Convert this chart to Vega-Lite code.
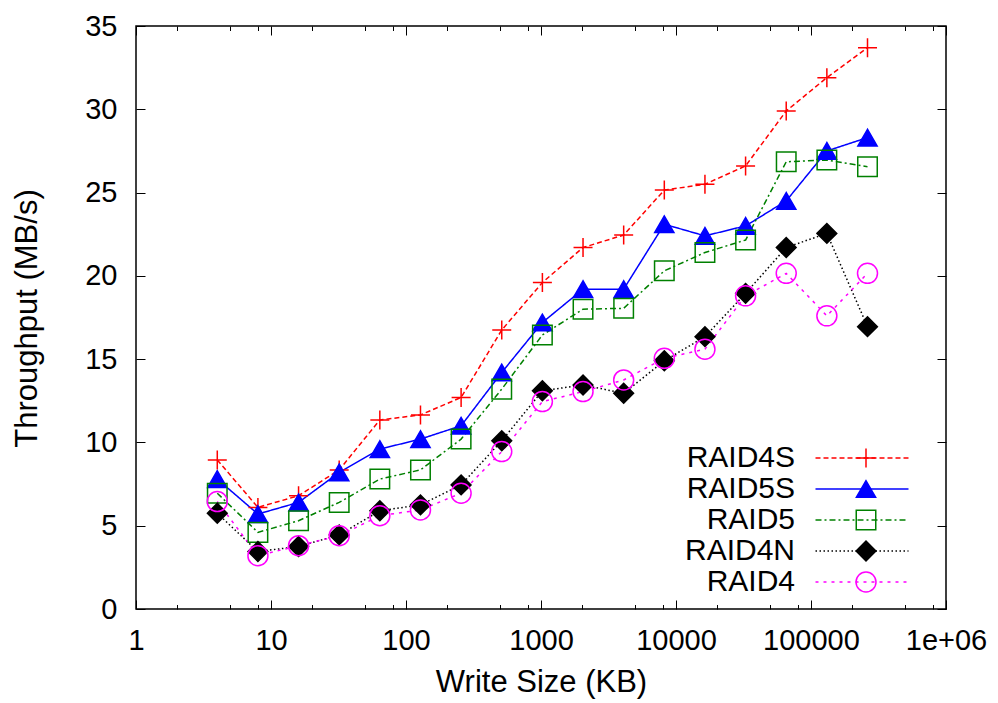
{
  "$schema": "https://vega.github.io/schema/vega-lite/v6.json",
  "width": 810,
  "height": 583,
  "autosize": "none",
  "padding": {"left": 136, "top": 26, "right": 52, "bottom": 94},
  "background": "white",
  "data": {
    "values": [
      {"size": 4, "series": "RAID4S", "tp": 8.95},
      {"size": 8, "series": "RAID4S", "tp": 6.1},
      {"size": 16, "series": "RAID4S", "tp": 6.8},
      {"size": 32, "series": "RAID4S", "tp": 8.35},
      {"size": 64, "series": "RAID4S", "tp": 11.35},
      {"size": 128, "series": "RAID4S", "tp": 11.65},
      {"size": 256, "series": "RAID4S", "tp": 12.7},
      {"size": 512, "series": "RAID4S", "tp": 16.75},
      {"size": 1024, "series": "RAID4S", "tp": 19.6},
      {"size": 2048, "series": "RAID4S", "tp": 21.7},
      {"size": 4096, "series": "RAID4S", "tp": 22.45},
      {"size": 8192, "series": "RAID4S", "tp": 25.15},
      {"size": 16384, "series": "RAID4S", "tp": 25.5},
      {"size": 32768, "series": "RAID4S", "tp": 26.6},
      {"size": 65536, "series": "RAID4S", "tp": 29.9},
      {"size": 131072, "series": "RAID4S", "tp": 31.9},
      {"size": 262144, "series": "RAID4S", "tp": 33.7},
      {"size": 4, "series": "RAID5S", "tp": 7.8},
      {"size": 8, "series": "RAID5S", "tp": 5.7},
      {"size": 16, "series": "RAID5S", "tp": 6.4},
      {"size": 32, "series": "RAID5S", "tp": 8.2},
      {"size": 64, "series": "RAID5S", "tp": 9.6},
      {"size": 128, "series": "RAID5S", "tp": 10.2},
      {"size": 256, "series": "RAID5S", "tp": 11.0},
      {"size": 512, "series": "RAID5S", "tp": 14.2},
      {"size": 1024, "series": "RAID5S", "tp": 17.2},
      {"size": 2048, "series": "RAID5S", "tp": 19.2},
      {"size": 4096, "series": "RAID5S", "tp": 19.2},
      {"size": 8192, "series": "RAID5S", "tp": 23.1},
      {"size": 16384, "series": "RAID5S", "tp": 22.4},
      {"size": 32768, "series": "RAID5S", "tp": 23.0},
      {"size": 65536, "series": "RAID5S", "tp": 24.5},
      {"size": 131072, "series": "RAID5S", "tp": 27.5},
      {"size": 262144, "series": "RAID5S", "tp": 28.3},
      {"size": 4, "series": "RAID5", "tp": 6.95},
      {"size": 8, "series": "RAID5", "tp": 4.6},
      {"size": 16, "series": "RAID5", "tp": 5.3},
      {"size": 32, "series": "RAID5", "tp": 6.4},
      {"size": 64, "series": "RAID5", "tp": 7.8},
      {"size": 128, "series": "RAID5", "tp": 8.35},
      {"size": 256, "series": "RAID5", "tp": 10.2},
      {"size": 512, "series": "RAID5", "tp": 13.2},
      {"size": 1024, "series": "RAID5", "tp": 16.45},
      {"size": 2048, "series": "RAID5", "tp": 18.0},
      {"size": 4096, "series": "RAID5", "tp": 18.05},
      {"size": 8192, "series": "RAID5", "tp": 20.3},
      {"size": 16384, "series": "RAID5", "tp": 21.4},
      {"size": 32768, "series": "RAID5", "tp": 22.15},
      {"size": 65536, "series": "RAID5", "tp": 26.85},
      {"size": 131072, "series": "RAID5", "tp": 26.95},
      {"size": 262144, "series": "RAID5", "tp": 26.55},
      {"size": 4, "series": "RAID4N", "tp": 5.75},
      {"size": 8, "series": "RAID4N", "tp": 3.45},
      {"size": 16, "series": "RAID4N", "tp": 3.75},
      {"size": 32, "series": "RAID4N", "tp": 4.45},
      {"size": 64, "series": "RAID4N", "tp": 5.9},
      {"size": 128, "series": "RAID4N", "tp": 6.25},
      {"size": 256, "series": "RAID4N", "tp": 7.45},
      {"size": 512, "series": "RAID4N", "tp": 10.1},
      {"size": 1024, "series": "RAID4N", "tp": 13.1},
      {"size": 2048, "series": "RAID4N", "tp": 13.45},
      {"size": 4096, "series": "RAID4N", "tp": 12.95},
      {"size": 8192, "series": "RAID4N", "tp": 14.9},
      {"size": 16384, "series": "RAID4N", "tp": 16.35},
      {"size": 32768, "series": "RAID4N", "tp": 18.95},
      {"size": 65536, "series": "RAID4N", "tp": 21.7},
      {"size": 131072, "series": "RAID4N", "tp": 22.55},
      {"size": 262144, "series": "RAID4N", "tp": 16.95},
      {"size": 4, "series": "RAID4", "tp": 6.45},
      {"size": 8, "series": "RAID4", "tp": 3.2},
      {"size": 16, "series": "RAID4", "tp": 3.8},
      {"size": 32, "series": "RAID4", "tp": 4.4},
      {"size": 64, "series": "RAID4", "tp": 5.6},
      {"size": 128, "series": "RAID4", "tp": 5.95},
      {"size": 256, "series": "RAID4", "tp": 6.95},
      {"size": 512, "series": "RAID4", "tp": 9.45},
      {"size": 1024, "series": "RAID4", "tp": 12.45},
      {"size": 2048, "series": "RAID4", "tp": 13.05},
      {"size": 4096, "series": "RAID4", "tp": 13.75},
      {"size": 8192, "series": "RAID4", "tp": 15.05},
      {"size": 16384, "series": "RAID4", "tp": 15.6},
      {"size": 32768, "series": "RAID4", "tp": 18.8},
      {"size": 65536, "series": "RAID4", "tp": 20.15},
      {"size": 131072, "series": "RAID4", "tp": 17.6},
      {"size": 262144, "series": "RAID4", "tp": 20.15}
    ]
  },
  "layer": [
    {
      "mark": {"type": "line", "strokeWidth": 1.5},
      "encoding": {
        "x": {
          "field": "size", "type": "quantitative",
          "scale": {"type": "log", "domain": [1, 1000000]},
          "axis": {
            "orient": "bottom",
            "values": [1, 2, 5, 8, 10, 20, 50, 80, 100, 200, 500, 800, 1000, 2000, 5000, 8000, 10000, 20000, 50000, 80000, 100000, 200000, 500000, 800000, 1000000],
            "tickSize": {"condition": {"test": "indexof([1,10,100,1000,10000,100000,1000000], datum.value) >= 0", "value": -9}, "value": -4.5},
            "labelExpr": "datum.value == 1000000 ? '1e+06' : (indexof([1,10,100,1000,10000,100000], datum.value) >= 0 ? '' + datum.value : '')",
            "labelPadding": 26,
            "labelFlush": false,
            "labelOverlap": false,
            "title": "Write Size (KB)",
            "titleFontSize": 31,
            "titleX": 405,
            "titleY": 82,
            "titleAlign": "center",
            "titleBaseline": "alphabetic"
          }
        },
        "y": {
          "field": "tp", "type": "quantitative",
          "scale": {"domain": [0, 35], "nice": false, "zero": true},
          "axis": {
            "orient": "left",
            "values": [0, 5, 10, 15, 20, 25, 30, 35],
            "tickSize": -9,
            "labelPadding": 28,
            "title": "Throughput (MB/s)",
            "titleFontSize": 31,
            "titleX": -100,
            "titleY": 292,
            "titleAngle": -90,
            "titleAlign": "center",
            "titleBaseline": "alphabetic"
          }
        },
        "color": {
          "field": "series", "type": "nominal",
          "scale": {"domain": ["RAID4S", "RAID5S", "RAID5", "RAID4N", "RAID4"], "range": ["#ff0000", "#0000ff", "#008000", "#000000", "#ff00ff"]},
          "legend": {"orient": "none", "legendX": 715, "legendY": 417, "title": null, "labelOpacity": 0, "labelFontSize": 30, "rowPadding": 1, "padding": 0, "symbolStrokeWidth": 1.5, "symbolOpacity": 1}
        },
        "strokeDash": {
          "field": "series", "type": "nominal",
          "sort": ["RAID4S", "RAID5S", "RAID5", "RAID4N", "RAID4"],
          "scale": {"range": [[5, 3], [1, 0], [6, 3, 2, 3], [1.5, 2.5], [3, 5]]},
          "legend": {
            "orient": "none", "legendX": 711, "legendY": 417, "title": null,
            "symbolType": "M-5,0H5", "symbolSize": 346, "symbolStrokeWidth": 1.5,
            "labelAlign": "right", "labelOffset": -82, "labelFontSize": 30,
            "rowPadding": 1, "padding": 0,
            "encode": {"symbols": {"update": {"stroke": {"scale": "color", "field": "value"}}}}
          }
        }
      }
    },
    {
      "mark": {"type": "point", "strokeWidth": 1.5, "opacity": 1},
      "encoding": {
        "x": {
          "field": "size", "type": "quantitative",
          "scale": {"type": "log", "domain": [1, 1000000]},
          "axis": {
            "orient": "top",
            "values": [1, 2, 5, 8, 10, 20, 50, 80, 100, 200, 500, 800, 1000, 2000, 5000, 8000, 10000, 20000, 50000, 80000, 100000, 200000, 500000, 800000, 1000000],
            "tickSize": {"condition": {"test": "indexof([1,10,100,1000,10000,100000,1000000], datum.value) >= 0", "value": -9}, "value": -4.5},
            "labels": false,
            "title": null
          }
        },
        "y": {
          "field": "tp", "type": "quantitative",
          "scale": {"domain": [0, 35], "nice": false, "zero": true},
          "axis": {"orient": "right", "values": [0, 5, 10, 15, 20, 25, 30, 35], "tickSize": -9, "labels": false, "title": null}
        },
        "color": {
          "field": "series", "type": "nominal",
          "scale": {"domain": ["RAID4S", "RAID5S", "RAID5", "RAID4N", "RAID4"], "range": ["#ff0000", "#0000ff", "#008000", "#000000", "#ff00ff"]}
        },
        "shape": {
          "field": "series", "type": "nominal",
          "scale": {"domain": ["RAID4S", "RAID5S", "RAID5", "RAID4N", "RAID4"], "range": ["M-1,0H1M0,-1V1", "triangle-up", "square", "diamond", "circle"]}
        },
        "fill": {
          "field": "series", "type": "nominal",
          "scale": {"domain": ["RAID4S", "RAID5S", "RAID5", "RAID4N", "RAID4"], "range": ["transparent", "#0000ff", "transparent", "#000000", "transparent"]}
        },
        "size": {
          "field": "series", "type": "nominal",
          "scale": {"domain": ["RAID4S", "RAID5S", "RAID5", "RAID4N", "RAID4"], "range": [361, 400, 324, 361, 324]}
        }
      }
    }
  ],
  "resolve": {"axis": {"x": "independent", "y": "independent"}},
  "config": {
    "font": "Liberation Sans",
    "view": {"stroke": "#000000", "strokeWidth": 1.5},
    "axis": {
      "domain": false, "grid": false,
      "labelFont": "Liberation Sans", "labelFontSize": 29, "labelColor": "#000000",
      "tickColor": "#000000", "tickWidth": 1,
      "titleFont": "Liberation Sans", "titleFontSize": 30, "titleFontWeight": "normal", "titleColor": "#000000"
    },
    "legend": {"labelFont": "Liberation Sans", "labelFontSize": 30, "labelColor": "#000000"}
  }
}
